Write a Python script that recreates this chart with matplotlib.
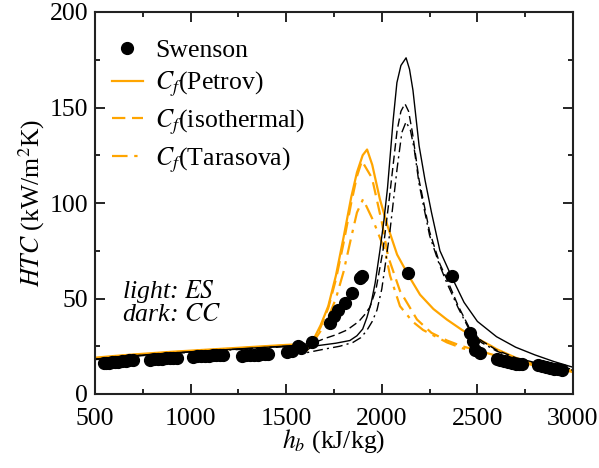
import matplotlib
matplotlib.use("Agg")
import matplotlib.pyplot as plt
from matplotlib.lines import Line2D
from matplotlib.ticker import MultipleLocator

plt.rcParams['font.family'] = ['Liberation Serif', 'DejaVu Serif']
plt.rcParams['mathtext.fontset'] = 'stix'

# ---- Swenson experimental data ----
swenson_h = [545, 560, 575, 590, 605, 620, 640, 660, 680, 700,
             790, 810, 830, 850, 870, 890, 910, 930,
             1015, 1035, 1055, 1075, 1095, 1115, 1135, 1155, 1170,
             1270, 1290, 1310, 1330, 1350, 1370, 1390, 1405,
             1505, 1530, 1560, 1575, 1635,
             1729, 1750, 1771, 1807, 1844, 1886, 1896,
             2137, 2367, 2461, 2475, 2490, 2513,
             2602, 2620, 2640, 2660, 2680, 2700, 2720, 2735,
             2815, 2840, 2860, 2880, 2900, 2920, 2945]
swenson_htc = [16.0, 16.2, 16.4, 16.6, 16.8, 17.0, 17.2, 17.4, 17.6, 17.8,
               18.0, 18.2, 18.4, 18.5, 18.7, 18.8, 19.0, 19.0,
               19.5, 19.7, 19.9, 20.0, 20.1, 20.3, 20.4, 20.5, 20.6,
               20.0, 20.2, 20.4, 20.5, 20.6, 20.7, 20.8, 21.0,
               22.0, 22.5, 25.0, 24.0, 27.0,
               37.0, 41.0, 44.0, 47.6, 53.0, 60.5, 62.0,
               63.5, 62.0, 32.0, 27.5, 23.0, 21.5,
               18.5, 17.8, 17.2, 16.6, 16.2, 15.8, 15.5, 15.5,
               15.0, 14.5, 14.0, 13.6, 13.3, 13.0, 12.8]

# ---- ES (light, orange) ----
es_petrov_h = [500, 600, 700, 800, 900, 1000, 1100, 1200, 1300, 1400, 1500, 1560,
               1585, 1610, 1640, 1680, 1720, 1760, 1800, 1840, 1870, 1900, 1923,
               1950, 1990, 2030, 2080, 2140, 2200, 2270, 2340, 2420, 2500, 2566,
               2600, 2700, 2800, 2900, 3000]
es_petrov = [19.0, 19.9, 20.7, 21.4, 22.1, 22.7, 23.3, 23.9, 24.5, 25.1, 25.7, 26.0,
             22.0, 24.0, 28.0, 36.0, 46.0, 62.0, 82.0, 103.0, 116.0, 125.0, 128.0,
             120.0, 102.0, 88.0, 73.0, 62.0, 52.0, 44.5, 39.0, 33.5, 29.0, 25.5,
             23.5, 19.0, 15.5, 13.5, 11.5]

es_iso_h = [500, 600, 700, 800, 900, 1000, 1100, 1200, 1300, 1400, 1500, 1560,
            1590, 1615, 1640, 1680, 1720, 1760, 1800, 1840, 1870, 1896,
            1949, 2000, 2033, 2095, 2184, 2260, 2341, 2420, 2513,
            2600, 2700, 2800, 2900, 3000]
es_iso = [18.7, 19.6, 20.4, 21.1, 21.8, 22.4, 23.0, 23.6, 24.2, 24.8, 25.4, 25.7,
          21.5, 23.5, 27.5, 35.0, 45.0, 60.0, 79.0, 100.0, 114.0, 122.0,
          113.0, 90.0, 72.0, 54.0, 39.0, 32.0, 28.0, 25.0, 22.5,
          20.0, 17.0, 15.0, 13.5, 12.0]

es_tar_h = [500, 600, 700, 800, 900, 1000, 1100, 1200, 1300, 1400, 1500, 1560,
            1590, 1615, 1640, 1680, 1720, 1760, 1800, 1840, 1870, 1902,
            1954, 2017, 2043, 2095, 2160, 2216, 2341, 2420, 2500,
            2600, 2700, 2800, 2900, 3000]
es_tar = [18.6, 19.5, 20.3, 21.0, 21.7, 22.3, 22.9, 23.5, 24.1, 24.7, 25.3, 25.6,
          21.5, 23.5, 27.0, 33.0, 40.0, 50.0, 64.0, 82.0, 95.0, 102.0,
          91.0, 75.0, 62.0, 46.0, 38.0, 33.5, 27.0, 24.0, 22.0,
          19.5, 17.0, 15.0, 13.5, 12.0]

# ---- CC (dark, black) ----
cc_petrov_h = [500, 600, 700, 800, 900, 1000, 1100, 1200, 1300, 1400, 1500, 1560,
               1600, 1640, 1700, 1760, 1833, 1870, 1900, 1922, 1945, 1965, 1990,
               2010, 2030, 2059, 2079, 2100, 2127, 2145, 2163, 2195, 2226, 2260,
               2304, 2367, 2430, 2500, 2600, 2700, 2800, 2900, 3000]
cc_petrov = [18.3, 19.2, 20.0, 20.8, 21.5, 22.1, 22.7, 23.3, 23.9, 24.5, 25.1, 25.4,
             22.5, 25.0, 25.8, 26.6, 28.0, 30.5, 34.0, 40.0, 48.0, 58.0, 75.0,
             90.0, 108.0, 143.0, 163.0, 172.0, 176.0, 170.0, 159.0, 130.0, 112.0, 95.0,
             75.0, 61.0, 48.0, 38.0, 30.0, 24.5, 20.5, 17.0, 14.0]

cc_iso_h = [500, 600, 700, 800, 900, 1000, 1100, 1200, 1300, 1400, 1500, 1560,
            1600, 1625, 1700, 1760, 1818, 1880, 1910, 1938, 1970, 2006, 2040, 2080,
            2100, 2121, 2140, 2160, 2195, 2250, 2304, 2341, 2400, 2461, 2520,
            2600, 2700, 2800, 2900, 3000]
cc_iso = [18.2, 19.1, 19.9, 20.7, 21.4, 22.0, 22.6, 23.2, 23.8, 24.4, 25.0, 25.5,
          23.0, 26.0, 29.0, 31.0, 33.5, 38.0, 41.5, 45.5, 55.0, 75.0, 103.0, 138.0,
          148.0, 152.0, 148.0, 137.0, 112.0, 85.0, 68.0, 60.0, 46.0, 34.0, 28.0,
          23.0, 19.0, 16.5, 14.5, 13.0]

cc_tar_h = [500, 600, 700, 800, 900, 1000, 1100, 1200, 1300, 1400, 1500, 1560,
            1600, 1625, 1700, 1780, 1849, 1890, 1920, 1950, 1975, 2000, 2040, 2080, 2105,
            2127, 2150, 2170, 2195, 2250, 2300, 2341, 2400, 2461, 2520,
            2600, 2700, 2800, 2900, 3000]
cc_tar = [18.0, 18.9, 19.7, 20.5, 21.2, 21.8, 22.4, 23.0, 23.6, 24.2, 24.8, 25.1,
          21.5, 22.0, 23.5, 25.0, 27.0, 29.5, 33.0, 38.0, 44.0, 55.0, 83.0, 118.0, 137.0,
          142.5, 138.0, 128.0, 110.0, 83.0, 68.0, 58.0, 45.0, 33.0, 27.0,
          22.5, 18.5, 16.0, 14.0, 12.5]

ORANGE = '#FFA500'
FS = 18.5

fig = plt.figure(figsize=(5.99, 4.68), dpi=100)
ax = fig.add_axes([95/599, 1-394/468, 478/599, 382/468])

dash = (0, (6, 3))
dashdot = (0, (7, 3, 1.5, 3))
ax.plot(es_petrov_h, es_petrov, color=ORANGE, lw=1.6, ls='-')
ax.plot(es_iso_h, es_iso, color=ORANGE, lw=1.6, ls=dash)
ax.plot(es_tar_h, es_tar, color=ORANGE, lw=1.6, ls=dashdot)
ax.plot(cc_petrov_h, cc_petrov, color='black', lw=1.0, ls='-')
ax.plot(cc_iso_h, cc_iso, color='black', lw=1.0, ls=dash)
ax.plot(cc_tar_h, cc_tar, color='black', lw=1.0, ls=dashdot)
ax.plot(swenson_h, swenson_htc, 'o', color='black', ms=8.5, mec='black', zorder=3)

ax.set_xlim(500, 3000)
ax.set_ylim(0, 200)
ax.xaxis.set_major_locator(MultipleLocator(500))
ax.xaxis.set_minor_locator(MultipleLocator(250))
ax.yaxis.set_major_locator(MultipleLocator(50))
ax.yaxis.set_minor_locator(MultipleLocator(25))
ax.tick_params(which='both', direction='in', top=True, right=True, labelsize=FS, width=1.2)
ax.tick_params(which='major', length=7.5)
ax.tick_params(axis='x', which='major', pad=10)
ax.tick_params(axis='y', which='major', pad=5)
ax.tick_params(which='minor', length=3.8)
for s in ax.spines.values():
    s.set_linewidth(1.5)
    s.set_color('#222222')

ax.set_xlabel('$h_b$ (kJ/kg)', fontsize=FS, labelpad=-2)
ax.set_ylabel('$HTC$ (kW/m$^2$K)', fontsize=FS, labelpad=2)

handles = [
    Line2D([], [], ls='none', marker='o', color='black', ms=8.5),
    Line2D([], [], color=ORANGE, lw=1.6, ls='-'),
    Line2D([], [], color=ORANGE, lw=1.6, ls=dash),
    Line2D([], [], color=ORANGE, lw=1.6, ls=dashdot),
]
labels = ['Swenson', '$C_f$(Petrov)', '$C_f$(isothermal)', '$C_f$(Tarasova)']
ax.legend(handles, labels, loc='upper left', bbox_to_anchor=(0.035, 0.93),
          frameon=False, fontsize=FS, handlelength=1.2, handletextpad=0.5,
          labelspacing=0.32, borderpad=0, borderaxespad=0)

ax.text(0.056, 0.24, 'light: $ES$\ndark: $CC$', transform=ax.transAxes,
        fontsize=FS, style='italic', va='center', ha='left', linespacing=0.95)

fig.savefig('out.png', dpi=100)
